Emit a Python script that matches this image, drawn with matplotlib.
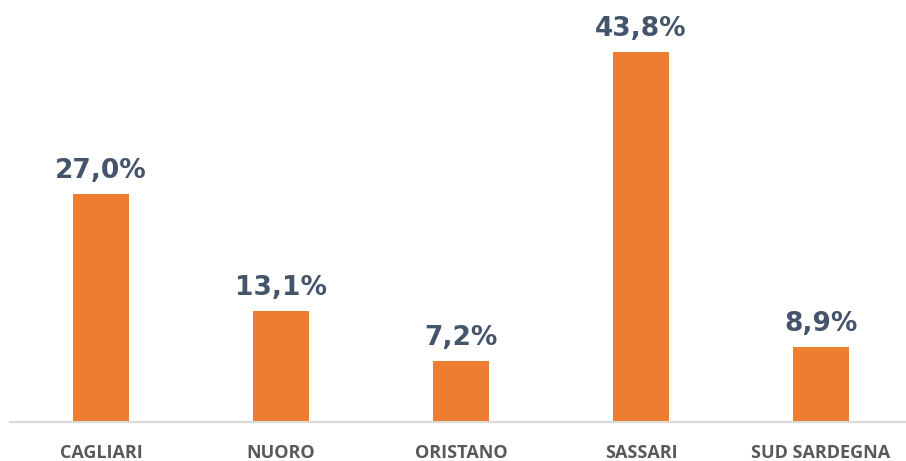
import matplotlib
matplotlib.use("Agg")
import matplotlib.pyplot as plt

categories = ["CAGLIARI", "NUORO", "ORISTANO", "SASSARI", "SUD SARDEGNA"]
values = [27.0, 13.1, 7.2, 43.8, 8.9]

fig = plt.figure(figsize=(9.06, 4.61), dpi=100)
ax = fig.add_axes([10 / 906, 39 / 461, 896 / 906, 406 / 461])

x = range(len(categories))
bars = ax.bar(x, values, width=0.315, color="#ED7D31", zorder=2)

for xi, v in zip(x, values):
    label = "{:.1f}%".format(v).replace(".", ",")
    ax.annotate(label, (xi, v), xytext=(0, 7), textcoords="offset points",
                ha="center", va="bottom", fontsize=19, fontweight="bold",
                color="#44546A", family="DejaVu Sans")

ax.set_xlim(-0.505, 4.472)
ax.set_ylim(0, 48)
ax.set_xticks(list(x))
ax.set_xticklabels(categories, fontsize=13, fontweight="bold", color="#595959",
                   family="Open Sans")
ax.tick_params(axis="x", length=0, pad=16)
ax.set_yticks([])
for s in ["top", "right", "left"]:
    ax.spines[s].set_visible(False)
ax.spines["bottom"].set_color("#D9D9D9")
ax.spines["bottom"].set_linewidth(1.5)

fig.savefig("out.png", dpi=100)
